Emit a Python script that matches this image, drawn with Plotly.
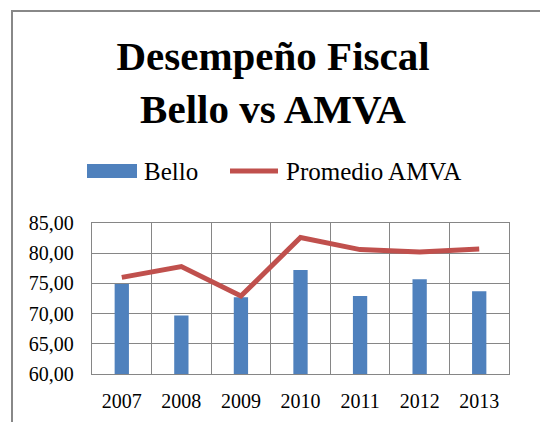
import plotly.graph_objects as go

years = ["2007", "2008", "2009", "2010", "2011", "2012", "2013"]
bello = [74.9, 69.7, 72.7, 77.2, 72.9, 75.7, 73.7]
promedio_amva = [76.0, 77.8, 72.9, 82.6, 80.6, 80.2, 80.7]
y_ticks = [60, 65, 70, 75, 80, 85]
y_ticklabels = ["60,00", "65,00", "70,00", "75,00", "80,00", "85,00"]
series_names = ["Bello", "Promedio AMVA"]
series_colors = ["#4F81BD", "#C0504D"]

W, H = 540, 422
L, R, T, B = 92, 31, 223, 48
pw, ph = W - L - R, H - T - B

def px_x(p):
    return (p - L) / pw

def px_y(p):
    return (H - B - p) / ph

grid = "#868686"
font_family = "Liberation Serif, Times New Roman, serif"

fig = go.Figure()
fig.add_trace(go.Bar(x=years, y=bello, name=series_names[0], showlegend=False,
                     marker=dict(color=series_colors[0], line=dict(width=0))))
fig.add_trace(go.Scatter(x=years, y=promedio_amva, name=series_names[1],
                         showlegend=False, mode="lines",
                         line=dict(color=series_colors[1], width=5)))

# Legend drawn as layout decoration (Excel-style wide swatches)
legend_shapes = [
    dict(type="rect", xref="paper", yref="paper",
         x0=px_x(87), x1=px_x(137), y0=px_y(178), y1=px_y(164),
         fillcolor=series_colors[0], line=dict(width=0)),
    dict(type="line", xref="paper", yref="paper",
         x0=px_x(230), x1=px_x(278), y0=px_y(171), y1=px_y(171),
         line=dict(color=series_colors[1], width=5)),
]
legend_annots = [
    dict(text=series_names[0], xref="paper", yref="paper", x=px_x(142),
         y=px_y(171), xanchor="left", yanchor="middle", showarrow=False,
         font=dict(size=25, family=font_family, color="black")),
    dict(text=series_names[1], xref="paper", yref="paper", x=px_x(284),
         y=px_y(171), xanchor="left", yanchor="middle", showarrow=False,
         font=dict(size=25, family=font_family, color="black")),
]

border = dict(type="rect", xref="paper", yref="paper",
              x0=px_x(12), x1=px_x(W + 20), y0=px_y(H + 20), y1=px_y(11),
              line=dict(color="#888888", width=2), fillcolor="rgba(0,0,0,0)",
              layer="below")

fig.update_layout(
    width=W, height=H,
    margin=dict(l=L, r=R, t=T, b=B, pad=0, autoexpand=False),
    paper_bgcolor="white", plot_bgcolor="white",
    font=dict(family=font_family, color="black", size=20),
    bargap=0.76,
    showlegend=False,
    title=dict(text="<b>Desempeño Fiscal<br>Bello vs AMVA</b>",
               x=273 / W, xanchor="center", xref="container",
               y=1 - 70 / H, yanchor="top", yref="container",
               font=dict(size=41, family=font_family, color="black")),
    xaxis=dict(type="category", tickson="boundaries", showgrid=True,
               gridcolor=grid, gridwidth=1.3, showline=True, linecolor=grid,
               linewidth=1.3, mirror=True, ticks="", ticklen=0,
               ticklabelstandoff=9,
               tickfont=dict(size=20, family=font_family, color="black")),
    yaxis=dict(range=[60, 85], tickvals=y_ticks, ticktext=y_ticklabels,
               showgrid=True, gridcolor=grid, gridwidth=1.3, showline=True,
               linecolor=grid, linewidth=1.3, mirror=True, ticks="",
               zeroline=False, ticklabelstandoff=13,
               tickfont=dict(size=20, family=font_family, color="black")),
    shapes=[border] + legend_shapes,
    annotations=legend_annots,
)

fig.write_html("out.html", config={"displayModeBar": False},
               post_script="document.body.style.margin='0';document.body.style.overflow='hidden';")
